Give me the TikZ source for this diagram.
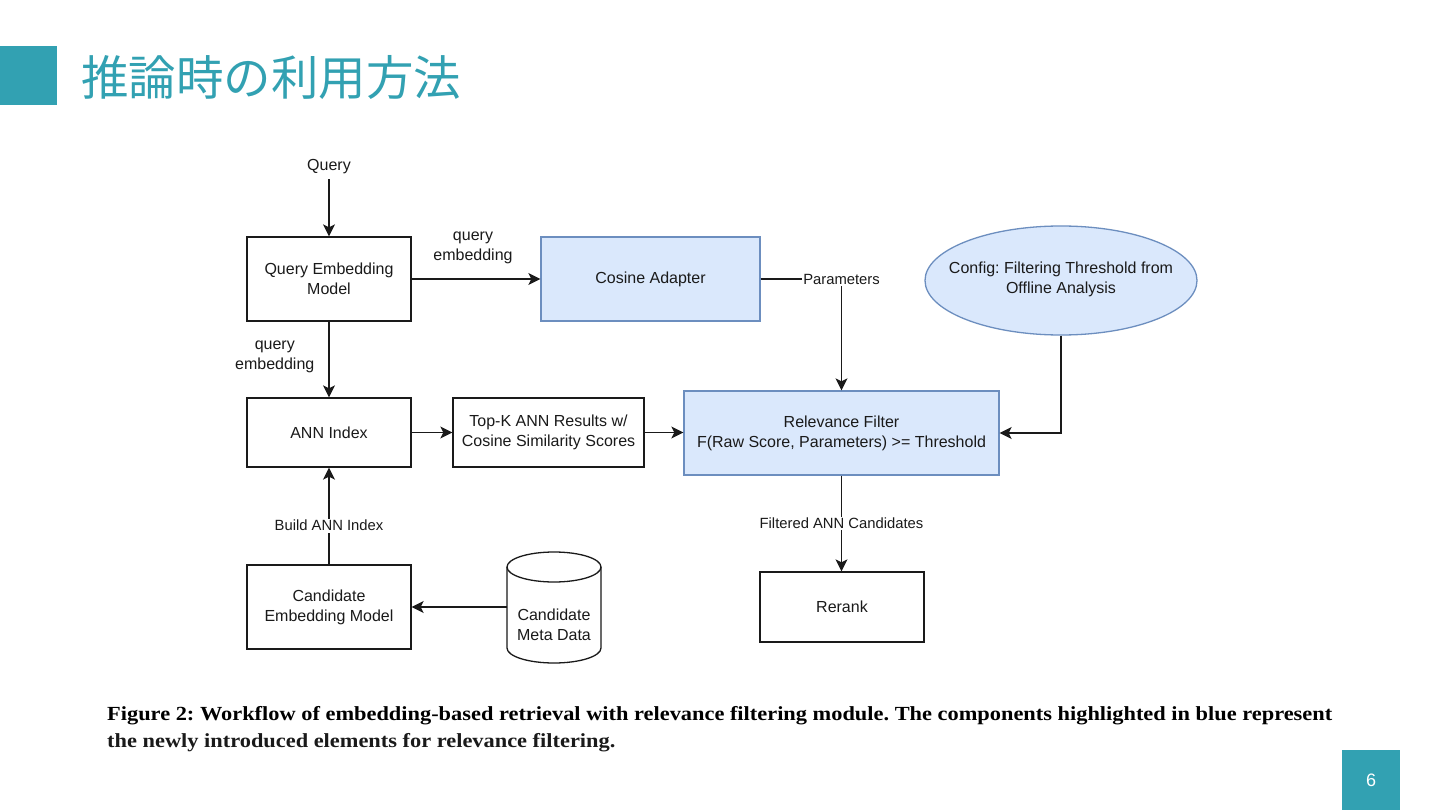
\documentclass[tikz,border=0pt]{standalone}
\usepackage{graphicx}
\usepackage{fontspec}
\setmainfont{Liberation Sans}
\newfontfamily\jpfont{Noto Sans CJK JP}
\newfontfamily\capfont{Liberation Serif}
\usetikzlibrary{arrows.meta,shapes.geometric}
\definecolor{teal1}{HTML}{32A1B2}
\definecolor{bfill}{HTML}{DAE8FC}
\definecolor{bdraw}{HTML}{6C8EBF}
\definecolor{ink}{HTML}{1A1A1A}
\newsavebox\capboxA
\frenchspacing
\begin{document}
\sbox\capboxA{\capfont\bfseries\fontsize{20}{24}\selectfont Figure 2: Workflow of embedding-based retrieval with relevance filtering module. The components highlighted in blue represent}%
\pgfmathsetmacro\capsc{1225/\the\wd\capboxA}%
\begin{tikzpicture}[x=1pt,y=-1pt,
 box/.style={draw=ink, line width=1.3pt, minimum width=164pt, minimum height=84pt, align=center, font=\fontsize{16}{20}\selectfont, inner sep=0pt, text=ink},
 bluebox/.style={box, fill=bfill, draw=bdraw},
 lbl/.style={font=\fontsize{16}{20}\selectfont, align=center, inner sep=1pt, text=ink},
 slbl/.style={font=\fontsize{14.8}{18}\selectfont, fill=white, inner sep=1.5pt, text=ink},
 conn/.style={line width=1.3pt, draw=ink},
 arr/.style={conn, -{Stealth[length=12pt,width=12pt,inset=3pt]}},
]
\useasboundingbox (0,0) rectangle (1440,810);
\fill[white] (0,0) rectangle (1440,810);
% title
\fill[teal1] (0,46) rectangle (57,105);
\node[anchor=west, text=teal1, font=\jpfont\fontsize{47.5}{52}\selectfont, inner sep=0pt] (title) at (81,78) {推論時の利用方法};
% nodes
\node[lbl] (query) at (329,167) {Query};
\node[box] (qem) at (329,279) {Query Embedding\\Model};
\node[bluebox, minimum width=219pt] (ca) at (650.5,279) {Cosine Adapter};
\node[ellipse, fill=bfill, draw=bdraw, line width=1.3pt, minimum width=272pt, minimum height=109pt, inner sep=0pt] (cfg) at (1061,280.5) {};
\node[lbl] (cfgtext) at (1061,279) {Config: Filtering Threshold from\\Offline Analysis};
\node[box, minimum height=69pt] (ann) at (329,432.5) {ANN Index};
\node[box, minimum width=191pt, minimum height=69pt] (topk) at (548.5,432.5) {Top-K ANN Results w/\\Cosine Similarity Scores};
\node[bluebox, minimum width=315pt, minimum height=84pt] (rf) at (841.5,433) {Relevance Filter\\F(Raw Score, Parameters) >= Threshold};
\node[box, minimum height=70pt] (rerank) at (842,607) {Rerank};
\node[box] (cem) at (329,607) {Candidate\\Embedding Model};
% cylinder
\draw[line width=1.3pt, draw=ink, fill=white] (507,567) -- (507,648) arc[start angle=180, end angle=0, x radius=47, y radius=15] -- (601,567) arc[start angle=0, end angle=-180, x radius=47, y radius=15] -- cycle;
\draw[line width=1.3pt, draw=ink] (507,567) arc[start angle=180, end angle=0, x radius=47, y radius=15];
\node[lbl, minimum width=94pt, inner sep=0pt] (meta) at (554,625) {Candidate\\Meta Data};
\coordinate (metaw) at (507,607);
% connectors
\draw[arr] (query.south) ++(0,4) -- (qem.north);
\draw[arr] (qem) -- node[lbl, above=14pt, xshift=-3pt] {query\\embedding} (ca);
\draw[arr] (ca.east) -| node[slbl, pos=0.5] {Parameters} (rf.north);
\draw[arr] (cfg.south) |- (rf.east);
\draw[arr] (qem) -- node[lbl, left=13pt, yshift=3pt] {query\\embedding} (ann);
\draw[arr] (ann) -- (topk);
\draw[arr] (topk.east) -- (rf.west |- topk.east);
\draw[arr] (rf.south) -- node[slbl] {Filtered ANN Candidates} (rf.south |- rerank.north);
\draw[arr] (cem) -- node[slbl, pos=0.4] {Build ANN Index} (ann);
\draw[arr] (metaw) -- (cem.east |- metaw);
% caption
\node[anchor=base west, inner sep=0pt, text=ink] (capA) at (107,720) {\scalebox{\capsc}[1]{\usebox\capboxA}};
\node[anchor=base west, inner sep=0pt, text=ink] (capB) at (107,747) {\scalebox{\capsc}[1]{\capfont\bfseries\fontsize{20}{24}\selectfont the newly introduced elements for relevance filtering.}};
% page number
\fill[teal1] (1342,750) rectangle (1400,810);
\node[text=white, font=\fontsize{18}{20}\selectfont, inner sep=0pt] (pg) at (1371,780) {6};
\end{tikzpicture}
\end{document}
